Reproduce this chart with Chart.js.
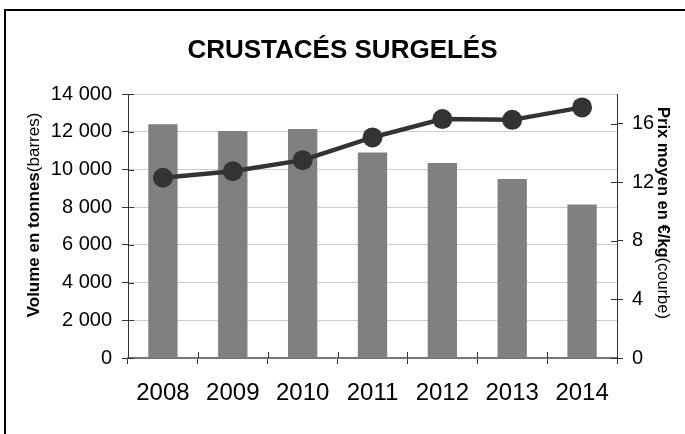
<!DOCTYPE html>
<html>
<head>
<meta charset="utf-8">
<script src="https://cdn.jsdelivr.net/npm/chart.js@4"></script>
<style>
    body { margin: 0; background: #fff; }
</style>
</head>
<body>
<canvas id="crustacesChart" width="685" height="434"></canvas>
<script>
const years = ['2008', '2009', '2010', '2011', '2012', '2013', '2014'];
const volumes = [12400, 12050, 12150, 10900, 10350, 9500, 8150]; // tonnes (barres)
const prices = [12.3, 12.75, 13.5, 15.05, 16.3, 16.25, 17.1]; // €/kg (courbe)
const volumeTicks = [0, 14000, 2000]; // min, max, step
const priceTicks = [0, 18, 4];

const FONT = 'Liberation Sans, Arial, sans-serif';

function spaced(v) {
    return String(v).replace(/\B(?=(\d{3})+(?!\d))/g, ' ');
}

function drawMixed(ctx, parts, x, y, angle) {
    ctx.save();
    ctx.translate(x, y);
    ctx.rotate(angle);
    ctx.textAlign = 'left';
    ctx.textBaseline = 'middle';
    ctx.fillStyle = '#000';
    let total = 0;
    parts.forEach(p => { ctx.font = p.font; p.w = ctx.measureText(p.text).width; total += p.w; });
    let cx = -total / 2;
    parts.forEach(p => { ctx.font = p.font; ctx.fillText(p.text, cx, 0); cx += p.w; });
    ctx.restore();
}

// frame, inner halves of tick marks, axis titles
const decor = {
    id: 'decor',
    beforeDraw(chart) {
        const ctx = chart.ctx;
        ctx.save();
        ctx.strokeStyle = '#000';
        ctx.lineWidth = 2;
        ctx.beginPath();
        ctx.moveTo(5, chart.height);
        ctx.lineTo(5, 10);
        ctx.lineTo(chart.width, 10);
        ctx.stroke();
        ctx.restore();
    },
    afterDraw(chart) {
        const ctx = chart.ctx;
        const { x, y, y1 } = chart.scales;
        ctx.save();
        ctx.strokeStyle = '#333';
        ctx.lineWidth = 1;
        ctx.beginPath();
        y.ticks.forEach((t, i) => {
            const py = Math.round(y.getPixelForTick(i)) + 0.5;
            ctx.moveTo(y.right, py); ctx.lineTo(y.right + 6, py);
        });
        y1.ticks.forEach((t, i) => {
            const py = Math.round(y1.getPixelForTick(i)) + 0.5;
            ctx.moveTo(y1.left - 6, py); ctx.lineTo(y1.left, py);
        });
        const step = x.getPixelForValue(1) - x.getPixelForValue(0);
        for (let i = 0; i <= years.length; i++) {
            const px = Math.round(x.getPixelForValue(i) - step / 2) + 0.5;
            ctx.moveTo(px, x.top - 6); ctx.lineTo(px, x.top);
        }
        ctx.stroke();
        ctx.restore();

        drawMixed(ctx, [
            { text: 'Volume en tonnes', font: 'bold 17px ' + FONT },
            { text: '(barres)', font: '17px ' + FONT }
        ], 34, 215, -Math.PI / 2);
        drawMixed(ctx, [
            { text: 'Prix moyen en €/kg', font: 'bold 16.5px ' + FONT },
            { text: '(courbe)', font: '16.5px ' + FONT }
        ], 663, 213, Math.PI / 2);
    }
};

const ctx = document.getElementById('crustacesChart').getContext('2d');
const crustacesChart = new Chart(ctx, {
    type: 'bar',
    data: {
        labels: years,
        datasets: [{
            type: 'line',
            data: prices,
            yAxisID: 'y1',
            borderColor: '#333333',
            borderWidth: 4.5,
            backgroundColor: '#333333',
            pointRadius: 10,
            pointBorderWidth: 0,
            pointHoverRadius: 10,
            tension: 0,
            order: 0
        }, {
            type: 'bar',
            data: volumes,
            yAxisID: 'y',
            backgroundColor: '#808080',
            categoryPercentage: 1,
            barPercentage: 0.42,
            order: 1
        }]
    },
    options: {
        responsive: false,
        animation: false,
        layout: { padding: 0 },
        plugins: {
            legend: { display: false },
            tooltip: { enabled: false },
            title: {
                display: true,
                text: 'CRUSTACÉS SURGELÉS',
                color: '#000',
                font: { family: FONT, size: 26, weight: 'bold', lineHeight: 1.2 },
                padding: { top: 35, bottom: 28 }
            }
        },
        scales: {
            x: {
                grid: { offset: true, drawOnChartArea: false, drawTicks: true, tickLength: 6, tickColor: '#333' },
                border: { color: '#777', width: 2 },
                ticks: { color: '#000', font: { family: FONT, size: 24 }, padding: 15, maxRotation: 0 },
                afterFit(s) { s.height = 76; }
            },
            y: {
                position: 'left',
                min: volumeTicks[0],
                max: volumeTicks[1],
                grid: { color: '#cccccc', lineWidth: 1, tickLength: 6, tickColor: '#333' },
                border: { color: '#333', width: 1 },
                ticks: {
                    stepSize: volumeTicks[2],
                    color: '#000',
                    font: { family: FONT, size: 20 },
                    padding: 10,
                    callback: v => spaced(v)
                },
                afterFit(s) { s.width = 128; }
            },
            y1: {
                position: 'right',
                min: priceTicks[0],
                max: priceTicks[1],
                grid: { drawOnChartArea: false, tickLength: 6, tickColor: '#333' },
                border: { color: '#333', width: 1 },
                ticks: {
                    stepSize: priceTicks[2],
                    includeBounds: false,
                    color: '#000',
                    font: { family: FONT, size: 20 },
                    padding: 9
                },
                afterFit(s) { s.width = 68; }
            }
        }
    },
    plugins: [decor]
});
</script>
</body>
</html>
